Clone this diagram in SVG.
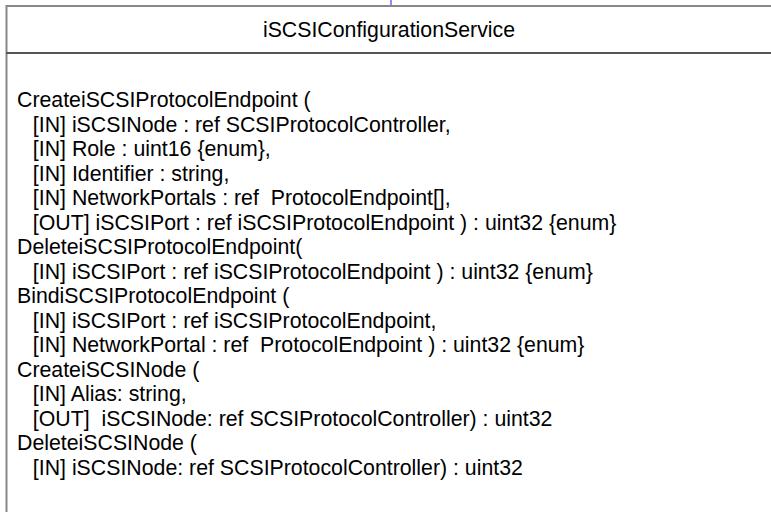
<svg xmlns="http://www.w3.org/2000/svg" width="771" height="512" viewBox="0 0 771 512">
<style>
.t{font-family:"Liberation Sans",Arial,sans-serif;font-size:21.3px;fill:#000;white-space:pre}
</style>
<rect width="771" height="512" fill="#fff"/>
<g id="connectors">
<line x1="391" y1="0" x2="391" y2="6" stroke="#6666ff" stroke-width="1.5"/>
</g>
<g id="iSCSIConfigurationService">
<rect x="6.5" y="6" width="800" height="540" fill="#fff" stroke="#888" stroke-width="2"/>
<line x1="6" y1="53" x2="771" y2="53" stroke="#555" stroke-width="2"/>
<text class="t" x="389" y="36.5" text-anchor="middle">iSCSIConfigurationService</text>
<text class="t" x="17" y="107" xml:space="preserve">CreateiSCSIProtocolEndpoint (</text>
<text class="t" x="21" y="131.5" xml:space="preserve">  [IN] iSCSINode : ref SCSIProtocolController,</text>
<text class="t" x="21" y="156" xml:space="preserve">  [IN] Role : uint16 {enum},</text>
<text class="t" x="21" y="180.5" xml:space="preserve">  [IN] Identifier : string,</text>
<text class="t" x="21" y="205" xml:space="preserve">  [IN] NetworkPortals : ref  ProtocolEndpoint[],</text>
<text class="t" x="21" y="229.5" xml:space="preserve">  [OUT] iSCSIPort : ref iSCSIProtocolEndpoint ) : uint32 {enum}</text>
<text class="t" x="17" y="254" xml:space="preserve">DeleteiSCSIProtocolEndpoint(</text>
<text class="t" x="21" y="278.5" xml:space="preserve">  [IN] iSCSIPort : ref iSCSIProtocolEndpoint ) : uint32 {enum}</text>
<text class="t" x="17" y="303" xml:space="preserve">BindiSCSIProtocolEndpoint (</text>
<text class="t" x="21" y="327.5" xml:space="preserve">  [IN] iSCSIPort : ref iSCSIProtocolEndpoint,</text>
<text class="t" x="21" y="352" xml:space="preserve">  [IN] NetworkPortal : ref  ProtocolEndpoint ) : uint32 {enum}</text>
<text class="t" x="17" y="376.5" xml:space="preserve">CreateiSCSINode (</text>
<text class="t" x="21" y="401" xml:space="preserve">  [IN] Alias: string,</text>
<text class="t" x="21" y="425.5" xml:space="preserve">  [OUT]  iSCSINode: ref SCSIProtocolController) : uint32</text>
<text class="t" x="17" y="450" xml:space="preserve">DeleteiSCSINode (</text>
<text class="t" x="21" y="474.5" xml:space="preserve">  [IN] iSCSINode: ref SCSIProtocolController) : uint32</text>
</g>
</svg>
